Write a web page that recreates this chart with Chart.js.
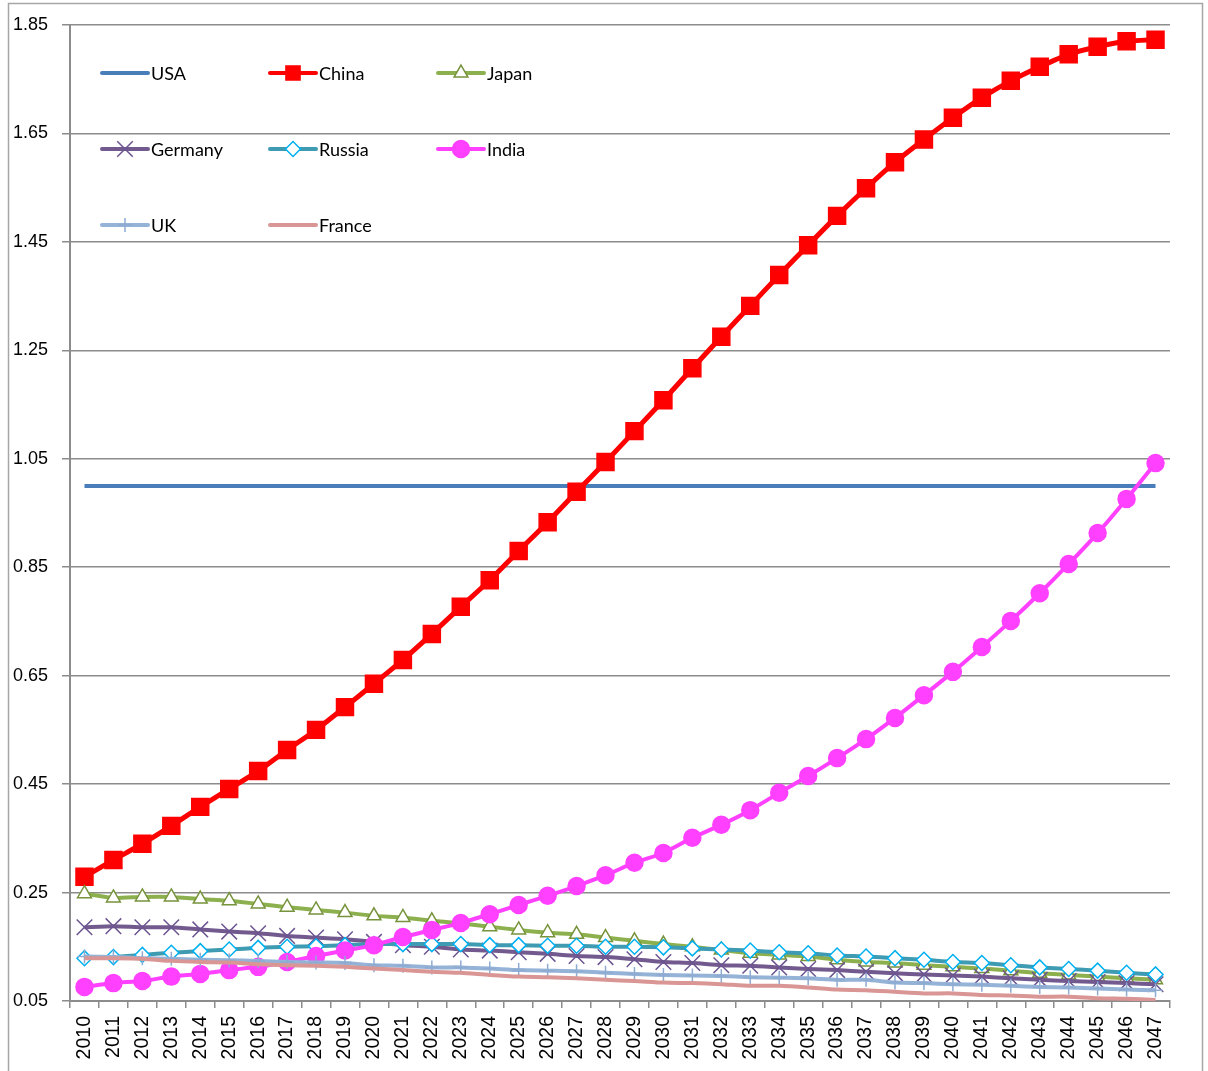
<!DOCTYPE html>
<html>
<head>
<meta charset="utf-8">
<script src="https://cdn.jsdelivr.net/npm/chart.js@4/dist/chart.umd.min.js"></script>
<style>
  html, body { margin: 0; padding: 0; background: #fff; }
  #wrap { width: 1208px; height: 1071px; }
</style>
</head>
<body>
<div id="wrap"><canvas id="gdpChart" width="1208" height="1071"></canvas></div>
<script>
const years = ['2010', '2011', '2012', '2013', '2014', '2015', '2016', '2017', '2018', '2019',
  '2020', '2021', '2022', '2023', '2024', '2025', '2026', '2027', '2028', '2029',
  '2030', '2031', '2032', '2033', '2034', '2035', '2036', '2037', '2038', '2039',
  '2040', '2041', '2042', '2043', '2044', '2045', '2046', '2047'];

const yTicks = [0.05, 0.25, 0.45, 0.65, 0.85, 1.05, 1.25, 1.45, 1.65, 1.85];

const usa = [1.0, 1.0, 1.0, 1.0, 1.0, 1.0, 1.0, 1.0, 1.0, 1.0,
  1.0, 1.0, 1.0, 1.0, 1.0, 1.0, 1.0, 1.0, 1.0, 1.0,
  1.0, 1.0, 1.0, 1.0, 1.0, 1.0, 1.0, 1.0, 1.0, 1.0,
  1.0, 1.0, 1.0, 1.0, 1.0, 1.0, 1.0, 1.0];
const china = [0.279, 0.310, 0.340, 0.373, 0.408, 0.441, 0.474, 0.513, 0.550, 0.592,
  0.635, 0.679, 0.727, 0.777, 0.826, 0.880, 0.933, 0.989, 1.044, 1.101,
  1.158, 1.217, 1.275, 1.332, 1.389, 1.444, 1.498, 1.549, 1.597, 1.639,
  1.679, 1.716, 1.747, 1.773, 1.796, 1.810, 1.820, 1.823];
const japan = [0.248, 0.240, 0.242, 0.242, 0.238, 0.235, 0.229, 0.223, 0.218, 0.213,
  0.207, 0.204, 0.198, 0.193, 0.187, 0.181, 0.176, 0.173, 0.167, 0.161,
  0.155, 0.150, 0.144, 0.138, 0.135, 0.132, 0.126, 0.122, 0.120, 0.116,
  0.113, 0.110, 0.106, 0.101, 0.098, 0.095, 0.092, 0.089];
const germany = [0.186, 0.188, 0.186, 0.186, 0.182, 0.178, 0.175, 0.170, 0.167, 0.164,
  0.159, 0.153, 0.150, 0.145, 0.143, 0.140, 0.137, 0.133, 0.131, 0.127,
  0.122, 0.120, 0.116, 0.115, 0.112, 0.109, 0.107, 0.104, 0.101, 0.099,
  0.097, 0.095, 0.092, 0.089, 0.087, 0.085, 0.083, 0.081];
const russia = [0.129, 0.131, 0.135, 0.139, 0.142, 0.145, 0.148, 0.150, 0.151, 0.153,
  0.155, 0.155, 0.155, 0.155, 0.153, 0.153, 0.152, 0.152, 0.150, 0.150,
  0.149, 0.147, 0.145, 0.143, 0.140, 0.138, 0.134, 0.132, 0.129, 0.126,
  0.122, 0.120, 0.116, 0.112, 0.109, 0.106, 0.102, 0.099];
const india = [0.076, 0.083, 0.087, 0.095, 0.100, 0.107, 0.113, 0.122, 0.133, 0.143,
  0.153, 0.168, 0.181, 0.194, 0.210, 0.227, 0.244, 0.262, 0.282, 0.305,
  0.323, 0.351, 0.375, 0.402, 0.434, 0.465, 0.498, 0.533, 0.572, 0.614,
  0.657, 0.703, 0.751, 0.802, 0.856, 0.913, 0.976, 1.042];
const uk = [0.132, 0.131, 0.129, 0.128, 0.126, 0.125, 0.124, 0.122, 0.121, 0.120,
  0.116, 0.115, 0.112, 0.112, 0.110, 0.107, 0.106, 0.105, 0.102, 0.100,
  0.098, 0.097, 0.096, 0.094, 0.093, 0.092, 0.089, 0.089, 0.084, 0.083,
  0.081, 0.080, 0.078, 0.076, 0.075, 0.073, 0.071, 0.070];
const france = [0.129, 0.129, 0.128, 0.124, 0.122, 0.121, 0.118, 0.116, 0.115, 0.113,
  0.110, 0.107, 0.104, 0.102, 0.098, 0.095, 0.094, 0.092, 0.089, 0.087,
  0.084, 0.083, 0.081, 0.078, 0.078, 0.075, 0.071, 0.070, 0.067, 0.064,
  0.064, 0.061, 0.060, 0.058, 0.058, 0.055, 0.054, 0.052];

const gridGray = '#8c8c8c';
const tickFont = { family: '"Liberation Sans", Arial, sans-serif' };

function series(label, data, color, style, extra) {
  return Object.assign({
    label: label,
    data: data,
    borderColor: color,
    backgroundColor: color,
    borderWidth: 4,
    pointStyle: style || false,
    pointRadius: style ? 8 : 0,
    pointHoverRadius: style ? 8 : 0,
    pointBorderColor: color,
    pointBackgroundColor: color,
    pointBorderWidth: 1.5,
    tension: 0.2,
    fill: false
  }, extra || {});
}

// later series are painted above earlier ones
const datasets = [
  series('USA', usa, '#4a7ebb', null, { order: 7 }),
  series('China', china, '#ff0000', 'rect', { order: 6, pointRadius: 12, pointHoverRadius: 12, borderWidth: 5 }),
  series('Japan', japan, '#8db04e', 'triangle', { order: 5, pointBackgroundColor: '#ffffff', pointBorderColor: '#77933c', pointRadius: 8 }),
  series('Germany', germany, '#725a8f', 'crossRot', { order: 4, pointRadius: 11, pointBorderColor: '#6c5590' }),
  series('Russia', russia, '#3e9bb1', 'rectRot', { order: 3, pointBackgroundColor: '#ffffff', pointBorderColor: '#00b0f0', pointRadius: 7.5 }),
  series('India', india, '#ff40ff', 'circle', { order: 2, pointRadius: 8.5 }),
  series('UK', uk, '#95b3d7', 'cross', { order: 1, pointRadius: 7, pointBorderColor: '#8eabd2' }),
  series('France', france, '#d99694', null, { order: 0 })
];

// white page with a thin grey frame
const frame = {
  id: 'frame',
  beforeDraw(chart) {
    const c = chart.ctx;
    c.save();
    c.fillStyle = '#ffffff';
    c.fillRect(0, 0, chart.width, chart.height);
    c.strokeStyle = '#a6a6a6';
    c.lineWidth = 1.5;
    c.strokeRect(8.5, 3.5, 1194, 1080);
    c.restore();
  }
};

// three-column key placed inside the plot
const insideLegend = {
  id: 'insideLegend',
  afterDraw(chart) {
    const c = chart.ctx;
    const cols = [102, 270, 438];
    const rows = [73, 149, 225];
    c.save();
    chart.data.datasets.forEach((ds, i) => {
      const x = cols[i % 3];
      const y = rows[Math.floor(i / 3)];
      c.lineCap = 'round';
      c.strokeStyle = ds.borderColor;
      c.lineWidth = 4;
      c.beginPath();
      c.moveTo(x, y);
      c.lineTo(x + 46, y);
      c.stroke();
      if (ds.pointStyle) {
        c.lineCap = 'butt';
        c.strokeStyle = ds.pointBorderColor;
        c.fillStyle = ds.pointBackgroundColor;
        c.lineWidth = ds.pointBorderWidth;
        Chart.helpers.drawPoint(c, {
          pointStyle: ds.pointStyle,
          radius: ds.label === 'China' ? 10 : ds.pointRadius,
          borderWidth: ds.pointBorderWidth,
          rotation: 0
        }, x + 23, y);
      }
      c.fillStyle = '#000000';
      c.font = '18px Lato, "Open Sans", sans-serif';
      c.textAlign = 'left';
      c.textBaseline = 'middle';
      c.fillText(ds.label, x + 49, y + 1);
    });
    c.restore();
  }
};

const ctx = document.getElementById('gdpChart').getContext('2d');
const gdpChart = new Chart(ctx, {
  type: 'line',
  data: {
    labels: years,
    datasets: datasets
  },
  options: {
    responsive: false,
    animation: false,
    events: [],
    layout: { padding: { top: 25, right: 38, bottom: 0, left: 0 } },
    plugins: {
      legend: { display: false },
      tooltip: { enabled: false }
    },
    scales: {
      x: {
        offset: true,
        afterFit(scale) { scale.height = 70; },
        grid: {
          offset: true,
          drawOnChartArea: false,
          drawTicks: true,
          tickLength: 7,
          color: gridGray,
          lineWidth: 1.5
        },
        border: { color: gridGray, width: 2 },
        ticks: {
          autoSkip: false,
          minRotation: 90,
          maxRotation: 90,
          padding: 8,
          color: '#000000',
          font: Object.assign({ size: 19.5 }, tickFont)
        }
      },
      y: {
        min: 0.05,
        max: 1.85,
        afterFit(scale) { scale.width = 70; },
        afterBuildTicks(scale) {
          scale.ticks = yTicks.map(v => ({ value: v }));
        },
        grid: {
          color: gridGray,
          lineWidth: 1.5,
          tickLength: 8
        },
        border: { color: gridGray, width: 2 },
        ticks: {
          padding: 14,
          color: '#000000',
          font: Object.assign({ size: 18 }, tickFont),
          callback: v => Number(v).toFixed(2)
        }
      }
    }
  },
  plugins: [frame, insideLegend]
});
</script>
</body>
</html>
